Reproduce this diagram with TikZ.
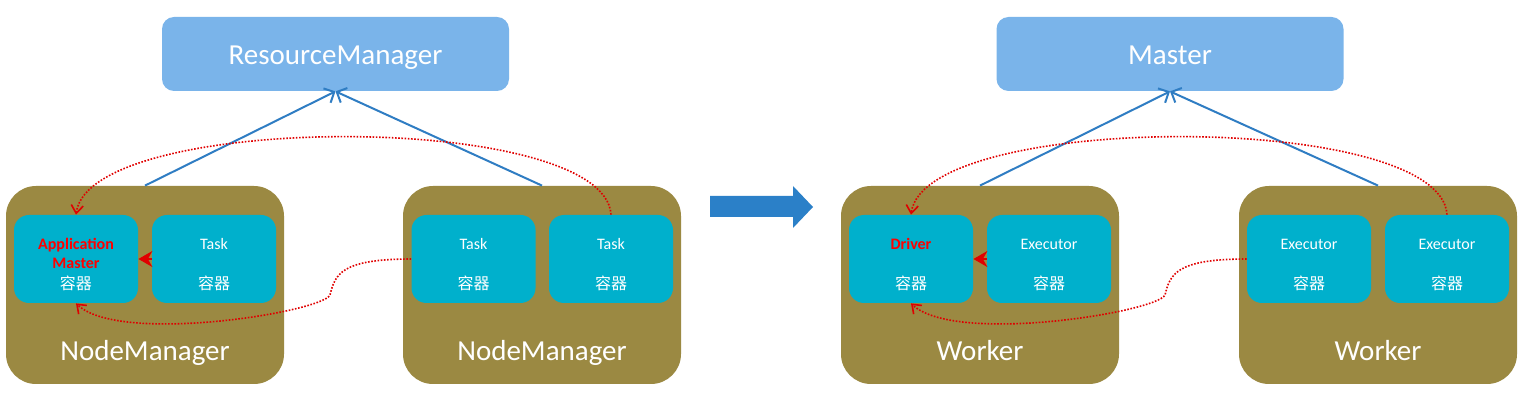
\documentclass[tikz,border=0pt]{standalone}
\usepackage{fontspec}
\setmainfont{Carlito}
\newfontfamily\cjk{Noto Sans CJK SC}
\usetikzlibrary{arrows.meta}
\definecolor{olive}{HTML}{9B8942}
\definecolor{cyanbox}{HTML}{00B0CC}
\definecolor{lightblue}{HTML}{7AB4EA}
\definecolor{lineblue}{HTML}{2F7DC3}
\definecolor{bigblue}{HTML}{2B80C8}
\definecolor{dotred}{HTML}{E00000}
\begin{document}
\begin{tikzpicture}[x=0.5pt,y=-0.5pt,
  topbox/.style={fill=lightblue, draw=none, rounded corners=6pt, minimum width=173.5pt, minimum height=37pt, inner sep=0pt},
  nmbox/.style={fill=olive, draw=none, rounded corners=15pt, minimum width=139pt, minimum height=99pt, inner sep=0pt},
  cbox/.style={fill=cyanbox, draw=none, rounded corners=7.5pt, minimum width=62pt, minimum height=44pt, inner sep=0pt},
  big/.style={text=white, font=\fontsize{14.5pt}{16pt}\selectfont, anchor=base, inner sep=0pt},
  small/.style={text=white, font=\fontsize{8pt}{9pt}\selectfont, anchor=base, inner sep=0pt},
  smallcjk/.style={text=white, font=\fontsize{8pt}{9pt}\selectfont\cjk, anchor=base, inner sep=0pt},
  redlbl/.style={text=red, font=\fontsize{8pt}{9pt}\selectfont\bfseries, anchor=base, inner sep=0pt},
  upline/.style={draw=lineblue, line width=1pt, -{Straight Barb[length=4pt,width=8pt]}},
  reddot/.style={draw=dotred, line width=0.8pt, dash pattern=on 0.8pt off 0.8pt, -{Straight Barb[length=4pt,width=6pt]}},
  redthick/.style={draw=dotred, line width=0.8pt, -{Stealth[length=7pt,width=8pt]}}
]
\useasboundingbox (0,0) rectangle (1522,406);

% ---------- left side ----------
\node[topbox] (rm) at (335.5,54) {};
\node[big] (rmt) at (335.5,65) {ResourceManager};

\node[nmbox] (nm1) at (145,285) {};
\node[nmbox] (nm2) at (542,285) {};
\node[big] (nm1t) at (145,361) {NodeManager};
\node[big] (nm2t) at (542,361) {NodeManager};

\node[cbox] (am) at (76,259) {};
\node[cbox] (ta) at (214,259) {};
\node[cbox] (tb) at (473.5,259) {};
\node[cbox] (tc) at (611,259) {};

\node[redlbl] (amt1) at (76,250) {Application};
\node[redlbl] (amt2) at (76,269) {Master};
\node[smallcjk] (amc) at (76,290) {容器};
\node[small] (tat) at (214,250) {Task};
\node[smallcjk] (tac) at (214,290) {容器};
\node[small] (tbt) at (473.5,250) {Task};
\node[smallcjk] (tbc) at (473.5,290) {容器};
\node[small] (tct) at (611,250) {Task};
\node[smallcjk] (tcc) at (611,290) {容器};

\draw[upline] (nm1.north) -- (rm.south);
\draw[upline] (nm2.north) -- (rm.south);
\draw[reddot] (tc.north) .. controls (605,111) and (90,111) .. (am.north);
\draw[reddot] (tb.west) .. controls (340,259) and (335,275) .. (330,295)
  .. controls (322,312) and (120,345) .. (am.south);
\draw[redthick] (ta.west) -- (am.east);

% ---------- middle arrow ----------
\fill[bigblue] (710,196) -- (793,196) -- (793,186) -- (813,207) -- (793,228) -- (793,217) -- (710,217) -- cycle;

% ---------- right side ----------
\node[topbox] (ms) at (1170,54) {};
\node[big] (mst) at (1170,65) {Master};

\node[nmbox] (wk1) at (980,285) {};
\node[nmbox] (wk2) at (1378,285) {};
\node[big] (wk1t) at (980,361) {Worker};
\node[big] (wk2t) at (1378,361) {Worker};

\node[cbox] (dr) at (911,259) {};
\node[cbox] (ea) at (1049,259) {};
\node[cbox] (eb) at (1309,259) {};
\node[cbox] (ec) at (1447,259) {};

\node[redlbl] (drt) at (911,250) {Driver};
\node[smallcjk] (drc) at (911,290) {容器};
\node[small] (eat) at (1049,250) {Executor};
\node[smallcjk] (eac) at (1049,290) {容器};
\node[small] (ebt) at (1309,250) {Executor};
\node[smallcjk] (ebc) at (1309,290) {容器};
\node[small] (ect) at (1447,250) {Executor};
\node[smallcjk] (ecc) at (1447,290) {容器};

\draw[upline] (wk1.north) -- (ms.south);
\draw[upline] (wk2.north) -- (ms.south);
\draw[reddot] (ec.north) .. controls (1441,111) and (925,111) .. (dr.north);
\draw[reddot] (eb.west) .. controls (1175,259) and (1170,275) .. (1165,295)
  .. controls (1157,312) and (955,345) .. (dr.south);
\draw[redthick] (ea.west) -- (dr.east);
\end{tikzpicture}
\end{document}
